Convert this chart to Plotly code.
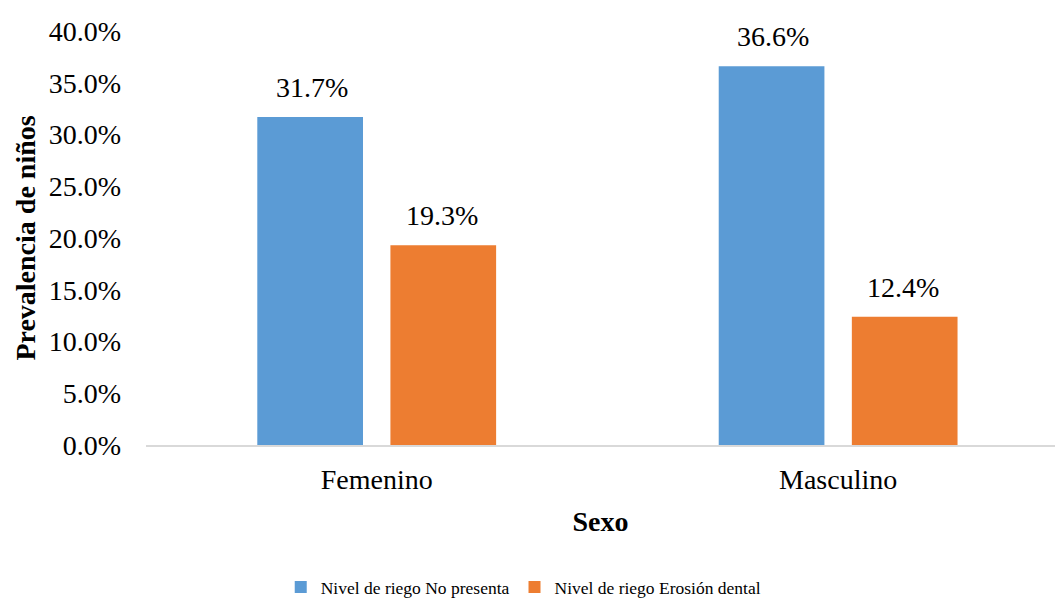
import plotly.graph_objects as go

categories = ["Femenino", "Masculino"]
series_names = ["Nivel de riego No presenta", "Nivel de riego Erosión dental"]
no_presenta = [0.317, 0.366]
erosion = [0.193, 0.124]
colors = ["#5b9bd5", "#ed7d31"]
y_ticks = [0, 0.05, 0.10, 0.15, 0.20, 0.25, 0.30, 0.35, 0.40]

FONT = "Liberation Serif"
FS = 28

fig = go.Figure()
for name, vals, col in zip(series_names, [no_presenta, erosion], colors):
    fig.add_trace(go.Bar(
        x=categories, y=vals, name=name, marker_color=col,
        marker_line_width=0, hoverinfo="skip",
    ))

# data labels above bars
offsets = [-65, 65]
for vals, dx in zip([no_presenta, erosion], offsets):
    for c, v in zip(categories, vals):
        fig.add_annotation(
            x=c, y=v, text=f"{v*100:.1f}%", showarrow=False,
            xshift=dx, yshift=12, yanchor="bottom",
            font=dict(family=FONT, size=FS, color="#000000"),
        )

fig.update_layout(
    width=1057, height=599,
    margin=dict(l=146, r=2, t=31, b=154, autoexpand=False),
    paper_bgcolor="white", plot_bgcolor="white",
    barmode="group", bargap=0.423, bargroupgap=0.206,
    font=dict(family=FONT, color="#000000"),
    legend=dict(
        orientation="h", x=0.415, xanchor="center",
        yref="container", y=0.02, yanchor="middle",
        font=dict(family=FONT, size=17.5, color="#000000"),
        itemwidth=30, traceorder="normal",
    ),
    xaxis=dict(
        range=[-0.5, 1.47], showgrid=False, showline=True, automargin=False,
        linecolor="#d9d9d9", linewidth=2, ticks="",
        tickfont=dict(family=FONT, size=FS), ticklabelstandoff=8,
        title=dict(text="<b>Sexo</b>", font=dict(family=FONT, size=FS), standoff=18),
    ),
    yaxis=dict(
        range=[0, 0.40], tickvals=y_ticks, tickformat=".1%", automargin=False,
        showgrid=False, zeroline=False, showline=False, ticks="",
        tickfont=dict(family=FONT, size=FS), ticklabelstandoff=24,
        title=dict(text="<b>Prevalencia de niños</b>", font=dict(family=FONT, size=FS), standoff=4),
    ),
)

fig.write_html("out.html")
